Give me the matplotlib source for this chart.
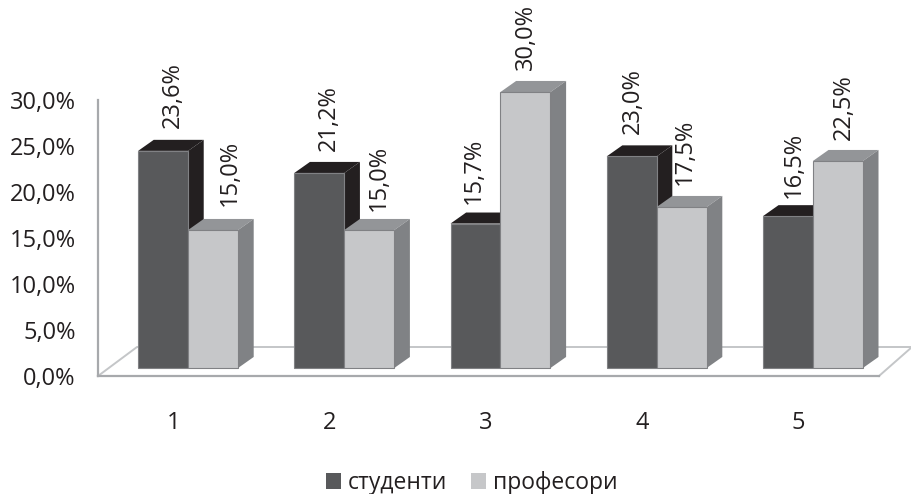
#!/usr/bin/env python3
# plot.py: 3D-looking grouped bars, students vs professors
import matplotlib
matplotlib.use("Agg")
import matplotlib.pyplot as plt
from matplotlib.patches import Patch

plt.rcParams["font.family"] = ["Open Sans", "DejaVu Sans"]

categories = ["1", "2", "3", "4", "5"]
studenti = [23.6, 21.2, 15.7, 23.0, 16.5]
profesori = [15.0, 15.0, 30.0, 17.5, 22.5]
y_ticks = [0, 5, 10, 15, 20, 25, 30]
series_names = ["студенти", "професори"]

# label nudges in pixels (x from bar centre, y above bar top)
stud_nudge = [(10, 23), (10, 22), (-2, 20), (1, 22), (6, 18)]
prof_nudge = [(17, 24), (10, 19), (0, 22), (3, 22), (6, 21)]

W, H = 912, 494
BAR_W = 0.32
DX, DY = 0.10, 1.2  # fake depth of the bars, in data units
FS = 17
DARK, LIGHT = "#58595b", "#c6c7c9"

def fmt(v):
    return f"{v:.1f}%".replace(".", ",")

def axes_px(fig, left, right, top, bottom):
    return fig.add_axes([left/W, 1-bottom/H, (right-left)/W, (bottom-top)/H])

def bars3d(ax, xs, vals, front, top, side, z):
    for x, v in zip(xs, vals):
        l, r = x-BAR_W/2, x+BAR_W/2
        ax.fill([l, l+DX, r+DX, r], [v, v+DY, v+DY, v], color=top, lw=0, zorder=z, clip_on=False)
        ax.fill([r, r+DX, r+DX, r], [0, DY, v+DY, v], color=side, lw=0, zorder=z, clip_on=False)
    ax.bar(xs, vals, BAR_W, color=front, edgecolor="#808184", lw=0.8, zorder=z+1, clip_on=False)

fig = plt.figure(figsize=(W/100, H/100), dpi=100)

# axis frame and floor
ax2 = axes_px(fig, 98, 879, 100, 376)
ax2.set_xlim(-0.484, 4.516)
ax2.set_ylim(0, 30)
ax2.set_yticks(y_ticks)
ax2.set_yticklabels([fmt(t) for t in y_ticks], fontsize=FS, color="#231f20")
ax2.set_xticks(range(len(categories)))
ax2.set_xticklabels(categories, fontsize=FS, color="#231f20")
ax2.tick_params(length=0)
ax2.tick_params(axis="x", pad=25)
ax2.tick_params(axis="y", pad=16)
for s in ["top", "right"]:
    ax2.spines[s].set_visible(False)
for s in ["left", "bottom"]:
    ax2.spines[s].set_color("#a7a9ac")
    ax2.spines[s].set_linewidth(1.6)
fx, fy = 39/781, 29/276
floor_c = "#c4c6c8"
ax2.plot([0, fx, 1+33/781, 1], [0, fy, fy, 0], color=floor_c, lw=1.4,
         transform=ax2.transAxes, clip_on=False)

# bars
ax = axes_px(fig, 110, 891, 93, 368)
ax.patch.set_alpha(0)
ax.axis("off")
ax.set_xlim(-0.5, 4.5)
ax.set_ylim(0, 275/9.2)
xs = list(range(len(categories)))
x1 = [x-BAR_W/2 for x in xs]
x2 = [x+BAR_W/2 for x in xs]
bars3d(ax, x1, studenti, DARK, "#231f20", "#231f20", 2)
bars3d(ax, x2, profesori, LIGHT, "#939598", "#808285", 4)

for xv, vals, nudge in [(x1, studenti, stud_nudge), (x2, profesori, prof_nudge)]:
    for x, v, (nx, ny) in zip(xv, vals, nudge):
        ax.annotate(fmt(v), (x, v), xytext=(nx*0.72, ny*0.72), textcoords="offset points",
                    rotation=90, ha="center", va="bottom", fontsize=FS,
                    color="#231f20", annotation_clip=False, zorder=8)

handles = [Patch(color=DARK, lw=0), Patch(color=LIGHT, lw=0)]
fig.legend(handles, series_names, loc="center", bbox_to_anchor=(472/W, 1-483/H),
           ncol=2, frameon=False, fontsize=16.5, handlelength=0.65, handleheight=0.65,
           handletextpad=0.3, columnspacing=1.05, labelcolor="#231f20")

fig.savefig("out.png", dpi=100)
